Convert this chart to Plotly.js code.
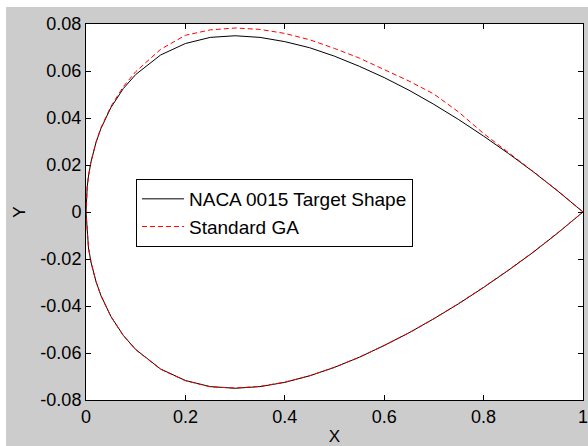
<!DOCTYPE html>
<html>
<head>
<meta charset="utf-8">
<script src="https://cdn.plot.ly/plotly-3.0.1.min.js"></script>
<style>
  html, body { margin: 0; padding: 0; background: #ffffff; }
  #chart { position: absolute; left: 6px; top: 7px; width: 582px; height: 439px; }
</style>
</head>
<body>
<div id="chart"></div>
<script>
// chordwise stations
const xs = [0, 0.0025, 0.005, 0.01, 0.02, 0.03, 0.05, 0.075, 0.1, 0.15, 0.2, 0.25, 0.3, 0.35, 0.4, 0.45, 0.5, 0.55, 0.6, 0.65, 0.7, 0.75, 0.8, 0.85, 0.9, 0.95, 1];
// NACA 0015 target shape (upper / lower surface)
const nacaUpper = [0, 0.0109, 0.0153, 0.0213, 0.0295, 0.0355, 0.0444, 0.0525, 0.0585, 0.0668, 0.0717, 0.0743, 0.0750, 0.0743, 0.0725, 0.0699, 0.0663, 0.0620, 0.0572, 0.0518, 0.0458, 0.0393, 0.0323, 0.0249, 0.0171, 0.0088, 0];
const nacaLower = [0, -0.0109, -0.0153, -0.0213, -0.0295, -0.0355, -0.0444, -0.0525, -0.0585, -0.0668, -0.0717, -0.0743, -0.0750, -0.0743, -0.0725, -0.0697, -0.0661, -0.0618, -0.0568, -0.0514, -0.0454, -0.0390, -0.0321, -0.0248, -0.0171, -0.0088, 0];
// Standard GA result (upper / lower surface)
const gaUpper = [0, 0.0109, 0.0154, 0.0214, 0.0297, 0.0358, 0.0449, 0.0533, 0.0597, 0.0692, 0.0752, 0.0775, 0.0783, 0.0777, 0.0760, 0.0733, 0.0696, 0.0655, 0.0607, 0.0557, 0.0502, 0.0425, 0.0334, 0.0252, 0.0172, 0.0089, 0];
const gaLower = [0, -0.0109, -0.0153, -0.0213, -0.0296, -0.0356, -0.0445, -0.0526, -0.0586, -0.0669, -0.0718, -0.0744, -0.0749, -0.0742, -0.0724, -0.0697, -0.0661, -0.0618, -0.0568, -0.0514, -0.0454, -0.0389, -0.0320, -0.0247, -0.0170, -0.0087, 0];

const seriesNames = ['NACA 0015 Target Shape', 'Standard GA'];
const xTickVals = [0, 0.2, 0.4, 0.6, 0.8, 1];
const xTickText = ['0', '0.2', '0.4', '0.6', '0.8', '1'];
const yTickVals = [-0.08, -0.06, -0.04, -0.02, 0, 0.02, 0.04, 0.06, 0.08];
const yTickText = ['-0.08', '-0.06', '-0.04', '-0.02', '0', '0.02', '0.04', '0.06', '0.08'];

function closed(up, low) {
  const xr = xs.slice().reverse().concat(xs.slice(1));
  const yr = up.slice().reverse().concat(low.slice(1));
  return {x: xr, y: yr};
}
const naca = closed(nacaUpper, nacaLower);
const ga = closed(gaUpper, gaLower);

const FONT = 'Arial, "Liberation Sans", sans-serif';

const data = [
  {x: naca.x, y: naca.y, type: 'scatter', mode: 'lines', name: seriesNames[0],
   line: {color: '#000000', width: 1}},
  {x: ga.x, y: ga.y, type: 'scatter', mode: 'lines', name: seriesNames[1],
   line: {color: '#ff0000', width: 1, dash: '5px,3px'}}
];

const axisCommon = {
  showline: true, linecolor: '#000000', linewidth: 1, mirror: 'ticks',
  ticks: 'inside', ticklen: 5, tickwidth: 1, tickcolor: '#000000',
  showgrid: false, zeroline: false,
  tickfont: {family: FONT, size: 18, color: '#000000'},
  tickmode: 'array', ticklabeloverflow: 'allow'
};

const layout = {
  width: 582, height: 439,
  margin: {l: 80, r: 5, t: 17, b: 46},
  paper_bgcolor: '#cccccc', plot_bgcolor: '#ffffff',
  font: {family: FONT, size: 18, color: '#000000'},
  showlegend: true,
  legend: {
    x: 0.1006, y: 0.5878, xanchor: 'left', yanchor: 'top',
    bgcolor: '#ffffff', bordercolor: '#000000', borderwidth: 1,
    font: {family: FONT, size: 19, color: '#000000'},
    itemwidth: 42, entrywidth: 300, entrywidthmode: 'pixels'
  },
  xaxis: Object.assign({}, axisCommon, {
    range: [0, 1], tickvals: xTickVals, ticktext: xTickText,
    title: {text: 'X', font: {family: FONT, size: 17, color: '#000000'}, standoff: 7}
  }),
  yaxis: Object.assign({}, axisCommon, {
    range: [-0.08, 0.08], tickvals: yTickVals, ticktext: yTickText,
    title: {text: 'Y', font: {family: FONT, size: 17, color: '#000000'}, standoff: 10}
  })
};

Plotly.newPlot('chart', data, layout, {displayModeBar: false, staticPlot: true});
</script>
</body>
</html>
